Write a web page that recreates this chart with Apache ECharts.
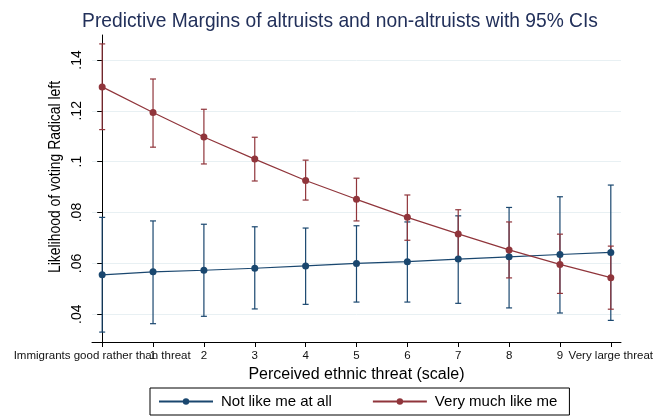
<!DOCTYPE html>
<html>
<head>
<meta charset="utf-8">
<script src="https://cdn.jsdelivr.net/npm/echarts@6/dist/echarts.min.js"></script>
<style>
  html, body { margin: 0; padding: 0; background: #fff; }
  #main { width: 656px; height: 417px; }
</style>
</head>
<body>
<div id="main"></div>
<script>
var FONT = "'Liberation Sans', Arial, sans-serif";

// threat scale 0..10
var xValues = [0, 1, 2, 3, 4, 5, 6, 7, 8, 9, 10];
var xLabels = ["Immigrants good rather than threat", "1", "2", "3", "4", "5", "6", "7", "8", "9", "Very large threat"];
var yTicks = [0.04, 0.06, 0.08, 0.1, 0.12, 0.14];

// Not like me at all
var notLike = [0.0555, 0.0567, 0.0573, 0.0581, 0.0590, 0.0600, 0.0607, 0.0617, 0.0626, 0.0635, 0.0643];
var notLikeLow = [0.0330, 0.0363, 0.0392, 0.0421, 0.0439, 0.0448, 0.0448, 0.0443, 0.0425, 0.0405, 0.0376];
var notLikeHigh = [0.0781, 0.0767, 0.0754, 0.0744, 0.0739, 0.0748, 0.0763, 0.0787, 0.0820, 0.0862, 0.0908];

// Very much like me
var veryLike = [0.1294, 0.1193, 0.1097, 0.1010, 0.0926, 0.0852, 0.0781, 0.0716, 0.0653, 0.0596, 0.0544];
var veryLikeLow = [0.1126, 0.1057, 0.0991, 0.0924, 0.0849, 0.0767, 0.0691, 0.0618, 0.0543, 0.0482, 0.0420];
var veryLikeHigh = [0.1463, 0.1325, 0.1206, 0.1096, 0.1006, 0.0935, 0.0869, 0.0811, 0.0763, 0.0715, 0.0668];

var BLUE = "#1a476f";
var RED = "#90353b";

function pairs(vals) {
  return xValues.map(function (x, i) { return [x, vals[i]]; });
}

// vertical CI bar with small caps
function ciSeries(low, high, color) {
  return {
    type: "custom",
    silent: true,
    z: 1,
    data: xValues.map(function (x, i) { return [x, low[i], high[i]]; }),
    encode: { x: 0, y: [1, 2] },
    renderItem: function (params, api) {
      var top = api.coord([api.value(0), api.value(2)]);
      var bot = api.coord([api.value(0), api.value(1)]);
      var w = 3;
      var st = { stroke: color, lineWidth: 1.2 };
      return {
        type: "group",
        children: [
          { type: "line", shape: { x1: top[0], y1: top[1], x2: bot[0], y2: bot[1] }, style: st },
          { type: "line", shape: { x1: top[0] - w, y1: top[1], x2: top[0] + w, y2: top[1] }, style: st },
          { type: "line", shape: { x1: bot[0] - w, y1: bot[1], x2: bot[0] + w, y2: bot[1] }, style: st }
        ]
      };
    }
  };
}

function lineSeries(name, vals, color) {
  return {
    name: name,
    type: "line",
    z: 3,
    data: pairs(vals),
    symbol: "circle",
    symbolSize: 7,
    lineStyle: { color: color, width: 1.2 },
    itemStyle: { color: color },
    emphasis: { disabled: true }
  };
}

var chart = echarts.init(document.getElementById("main"));

var option = {
  backgroundColor: "#fff",
  animation: false,
  graphic: [
    {
      type: "text",
      x: 340,
      y: 21,
      scaleX: 0.915,
      silent: true,
      style: {
        text: "Predictive Margins of altruists and non-altruists with 95% CIs",
        font: "21px " + FONT,
        fill: "#22305a",
        align: "center",
        verticalAlign: "middle"
      }
    },
    {
      type: "text",
      x: 55,
      y: 177,
      rotation: Math.PI / 2,
      scaleX: 0.82,
      silent: true,
      style: {
        text: "Likelihood of voting Radical left",
        font: "17px " + FONT,
        fill: "#000",
        align: "center",
        verticalAlign: "middle"
      }
    }
  ],
  grid: { left: 92, right: 30, top: 35, bottom: 75 },
  legend: {
    data: ["Not like me at all", "Very much like me"],
    left: 150,
    top: 388,
    padding: [6, 12, 6, 8],
    itemGap: 40,
    itemWidth: 54,
    itemHeight: 8,
    borderColor: "#000",
    borderWidth: 1,
    borderRadius: 0,
    textStyle: { fontFamily: FONT, fontSize: 15, color: "#000", padding: [0, 0, 0, 3] }
  },
  xAxis: {
    type: "value",
    min: -0.2,
    max: 10.2,
    name: "Perceived ethnic threat (scale)",
    nameLocation: "middle",
    nameGap: 19,
    nameTextStyle: { fontFamily: FONT, fontSize: 16, color: "#000" },
    axisLine: { show: true, onZero: false, lineStyle: { color: "#000", width: 1 } },
    axisTick: { show: true, length: 5, customValues: xValues, lineStyle: { color: "#000" } },
    axisLabel: {
      // blank label at the axis start so ECharts keeps both "Immigrants..." and "1"
      customValues: [-0.2].concat(xValues),
      hideOverlap: false,
      margin: 8,
      fontFamily: FONT,
      fontSize: 11.5,
      color: "#111",
      formatter: function (v) { return v < 0 ? " " : xLabels[Math.round(v)]; }
    },
    splitLine: { show: false }
  },
  yAxis: {
    type: "value",
    min: 0.0291,
    max: 0.1498,
    axisLine: { show: true, lineStyle: { color: "#000", width: 1 } },
    axisTick: { show: true, length: 5, customValues: yTicks, lineStyle: { color: "#000" } },
    axisLabel: {
      customValues: yTicks,
      showMinLabel: true,
      showMaxLabel: true,
      rotate: 90,
      margin: 8,
      fontFamily: FONT,
      fontSize: 14,
      color: "#000",
      formatter: function (v) { return String(+v.toFixed(2)).replace(/^0/, ""); }
    },
    splitLine: { show: true, lineStyle: { color: "#e8f0f3", width: 1 } }
  },
  series: [
    ciSeries(notLikeLow, notLikeHigh, BLUE),
    ciSeries(veryLikeLow, veryLikeHigh, RED),
    lineSeries("Not like me at all", notLike, BLUE),
    lineSeries("Very much like me", veryLike, RED)
  ]
};

chart.setOption(option);
</script>
</body>
</html>
